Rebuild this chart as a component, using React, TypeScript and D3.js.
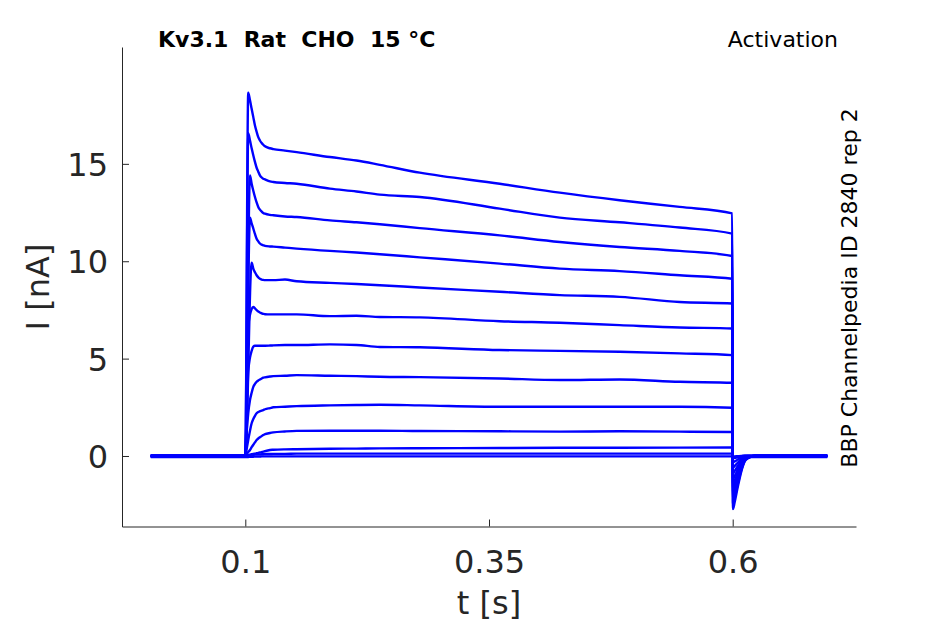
import React, { useEffect, useRef } from 'react';
import * as d3 from 'd3';

// sample times [s], shared by every sweep
const times = [
  0.003, 0.0999, 0.1, 0.1015, 0.103, 0.1048, 0.1065, 0.1082, 0.1099, 0.1116,
  0.1133, 0.115, 0.1168, 0.1184, 0.1202, 0.1253, 0.1287, 0.1407, 0.1527, 0.1868,
  0.214, 0.238, 0.279, 0.361, 0.4226, 0.484, 0.5456, 0.5995, 0.6003, 0.6019,
  0.6053, 0.6088, 0.6122, 0.6156, 0.6225, 0.697,
];

// current [nA] per sweep, null = not sampled
const sweep01 = [0, 0, 0, null, 18.65, 18.26, 17.83, 17.4, 16.97, 16.65, 16.37, 16.2, 16.07, 15.98, 15.9, 15.8, 15.76, 15.68, 15.6, 15.35, 15.17, 14.95, 14.55, 13.98, 13.52, 13.13, 12.79, 12.46, -2.73, -2.4, -1.57, -0.8, -0.29, -0.12, 0, 0];
const sweep02 = [0, 0, 0, null, 16.58, 16.2, 15.8, 15.44, 15.1, 14.8, 14.6, 14.41, 14.3, 14.24, 14.2, 14.1, 14.07, 14.02, 13.98, 13.73, 13.58, 13.42, 13.3, 12.7, 12.24, 12.0, 11.73, 11.42, -2.48, -2.18, -1.43, -0.73, -0.26, -0.1, 0, 0];
const sweep03 = [0, 0, 0, null, null, 14.4, 13.98, 13.62, 13.3, 13.02, 12.79, 12.65, 12.55, 12.48, 12.44, 12.38, 12.36, 12.3, 12.27, 12.1, 12.0, 11.9, 11.7, 11.33, 10.99, 10.73, 10.53, 10.27, -2.24, -1.97, -1.29, -0.66, -0.24, -0.09, 0, 0];
const sweep04 = [0, 0, 0, null, null, 12.24, 11.95, 11.68, 11.4, 11.16, 11.02, 10.91, 10.85, 10.82, 10.79, 10.76, 10.75, 10.7, 10.65, 10.53, 10.45, 10.36, 10.2, 9.88, 9.62, 9.49, 9.28, 9.1, -1.99, -1.75, -1.15, -0.58, -0.21, -0.08, 0, 0];
const sweep05 = [0, 0, 0, null, null, null, 9.92, 9.62, 9.43, 9.28, 9.17, 9.1, 9.06, 9.04, 9.03, 9.03, 9.03, 9.06, 8.97, 8.89, 8.83, 8.77, 8.65, 8.43, 8.26, 8.17, 7.91, 7.83, -1.74, -1.53, -1.0, -0.5, -0.18, -0.07, 0, 0];
const sweep06 = [0, 0, 0, null, 6.6, 7.25, 7.55, 7.65, 7.58, 7.49, 7.42, 7.37, 7.32, 7.3, 7.28, 7.27, 7.27, 7.27, 7.27, 7.18, 7.2, 7.14, 7.12, 6.92, 6.84, 6.72, 6.6, 6.55, -1.49, -1.31, -0.86, -0.43, -0.16, -0.06, 0, 0];
const sweep07 = [0, 0, 0, null, 4.3, 5.05, 5.4, 5.62, 5.66, 5.66, 5.66, 5.66, 5.66, 5.66, 5.66, 5.67, 5.68, 5.7, 5.7, 5.73, 5.7, 5.6, 5.58, 5.44, 5.4, 5.35, 5.27, 5.18, -1.19, -1.05, -0.68, -0.34, -0.13, -0.05, 0, 0];
const sweep08 = [0, 0, 0, 1.3, 2.19, 2.87, 3.25, 3.55, 3.7, 3.81, 3.88, 3.93, 3.98, 4.02, 4.04, 4.08, 4.1, 4.12, 4.15, 4.12, 4.1, 4.07, 4.05, 3.98, 3.9, 3.93, 3.81, 3.76, -0.89, -0.78, -0.51, -0.26, -0.1, -0.04, 0, 0];
const sweep09 = [0, 0, 0, 0.4, 0.82, 1.3, 1.68, 1.9, 2.06, 2.19, 2.26, 2.3, 2.33, 2.36, 2.4, 2.46, 2.5, 2.53, 2.56, 2.6, 2.62, 2.63, 2.6, 2.53, 2.53, 2.53, 2.53, 2.48, -0.59, -0.52, -0.34, -0.17, -0.07, -0.03, 0, 0];
const sweep10 = [0, 0, 0, 0.1, 0.2, 0.31, 0.45, 0.58, 0.7, 0.82, 0.9, 0.96, 1.02, 1.08, 1.12, 1.18, 1.21, 1.26, 1.29, 1.3, 1.3, 1.3, 1.28, 1.27, 1.25, 1.27, 1.25, 1.23, -0.32, -0.28, -0.18, -0.09, -0.04, -0.02, 0, 0];
const sweep11 = [0, 0, 0, 0.02, 0.04, 0.07, 0.09, 0.11, 0.12, 0.14, 0.16, 0.18, 0.2, 0.22, 0.25, 0.31, 0.32, 0.34, 0.35, 0.37, 0.38, 0.39, 0.4, 0.41, 0.42, 0.42, 0.43, 0.44, -0.12, -0.1, -0.07, -0.03, -0.01, 0, 0, 0];
const sweep12 = [0.03, 0.03, 0.03, 0.03, 0.04, 0.05, 0.06, 0.06, 0.07, 0.07, 0.08, 0.08, 0.09, 0.09, 0.1, 0.1, 0.11, 0.11, 0.12, 0.12, 0.12, 0.12, 0.12, 0.12, 0.12, 0.12, 0.12, 0.12, -0.03, -0.02, -0.01, 0, 0.03, 0.03, 0.03, 0.03];
const sweep13 = [-0.05, -0.05, -0.05, -0.05, -0.05, -0.04, -0.04, -0.04, -0.03, -0.03, -0.03, -0.03, -0.02, -0.02, -0.02, -0.02, -0.02, -0.02, -0.02, -0.02, -0.02, -0.02, -0.02, -0.02, -0.02, -0.02, -0.02, -0.02, -0.06, -0.06, -0.05, -0.05, -0.05, -0.05, -0.05, -0.05];

const sweeps = [sweep01, sweep02, sweep03, sweep04, sweep05, sweep06, sweep07, sweep08, sweep09, sweep10, sweep11, sweep12, sweep13];

const xTicks = [0.1, 0.35, 0.6];
const xTickLabels = ['0.1', '0.35', '0.6'];
const yTicks = [0, 5, 10, 15];
const yTickLabels = ['0', '5', '10', '15'];

const W = 945;
const H = 624;
const FONT = '"DejaVu Sans", sans-serif';
const AXIS_COLOR = '#262626';

const App: React.FC = () => {
  const svgRef = useRef<SVGSVGElement>(null);

  useEffect(() => {
    if (!svgRef.current) return;
    document.body.style.margin = '0';

    const svg = d3.select(svgRef.current);
    svg.selectAll('*').remove();

    const x = d3.scaleLinear().domain([-0.0265, 0.7265]).range([122, 856]);
    const y = d3.scaleLinear().domain([-3.62, 21]).range([526.5, 47]);

    const line = d3.line<[number, number]>()
      .x(d => x(d[0]))
      .y(d => y(d[1]))
      .curve(d3.curveMonotoneX);

    // sweeps
    const g = svg.append('g');
    sweeps.forEach(s => {
      const pts = times
        .map((t, i) => [t, s[i]] as [number, number | null])
        .filter(p => p[1] !== null) as [number, number][];
      g.append('path')
        .datum(pts)
        .attr('fill', 'none')
        .attr('stroke', '#0000ff')
        .attr('stroke-width', 2.4)
        .attr('stroke-linejoin', 'round')
        .attr('d', line);
    });

    // x axis
    const xAxis = svg.append('g')
      .attr('transform', `translate(0,${y.range()[0]})`)
      .call(
        d3.axisBottom(x)
          .tickValues(xTicks)
          .tickSizeInner(-7)
          .tickSizeOuter(0)
          .tickPadding(24)
          .tickFormat((_, i) => xTickLabels[i])
      );

    // y axis
    const yAxis = svg.append('g')
      .attr('transform', `translate(${x.range()[0]},0)`)
      .call(
        d3.axisLeft(y)
          .tickValues(yTicks)
          .tickSizeInner(-7)
          .tickSizeOuter(0)
          .tickPadding(14)
          .tickFormat((_, i) => yTickLabels[i])
      );

    [xAxis, yAxis].forEach(a => {
      a.select('.domain').attr('stroke', AXIS_COLOR).attr('stroke-width', 1);
      a.selectAll('.tick line').attr('stroke', AXIS_COLOR);
      a.selectAll('.tick text')
        .attr('fill', AXIS_COLOR)
        .style('font-family', FONT)
        .style('font-size', '32px');
    });
    yAxis.selectAll('.tick text').attr('dy', '0.36em');

    // axis labels
    svg.append('text')
      .attr('x', 489)
      .attr('y', 614)
      .attr('text-anchor', 'middle')
      .attr('fill', AXIS_COLOR)
      .style('font-family', FONT)
      .style('font-size', '32px')
      .text('t [s]');

    svg.append('text')
      .attr('transform', 'translate(49,287) rotate(-90)')
      .attr('text-anchor', 'middle')
      .attr('fill', AXIS_COLOR)
      .style('font-family', FONT)
      .style('font-size', '32px')
      .text('I [nA]');

    // annotations
    svg.append('text')
      .attr('x', 158)
      .attr('y', 46.5)
      .attr('fill', '#000')
      .attr('font-weight', 'bold')
      .style('font-family', FONT)
      .style('font-size', '22px')
      .style('white-space', 'pre')
      .attr('xml:space', 'preserve')
      .text('Kv3.1  Rat  CHO  15 °C');

    svg.append('text')
      .attr('x', 838)
      .attr('y', 46.5)
      .attr('text-anchor', 'end')
      .attr('fill', '#000')
      .style('font-family', FONT)
      .style('font-size', '22px')
      .text('Activation');

    svg.append('text')
      .attr('transform', 'translate(857,288) rotate(-90)')
      .attr('text-anchor', 'middle')
      .attr('fill', '#000')
      .style('font-family', FONT)
      .style('font-size', '22px')
      .text('BBP Channelpedia ID 2840 rep 2');
  }, []);

  return (
    <svg ref={svgRef} width={W} height={H} style={{ display: 'block', background: '#fff' }} />
  );
};

export default App;
